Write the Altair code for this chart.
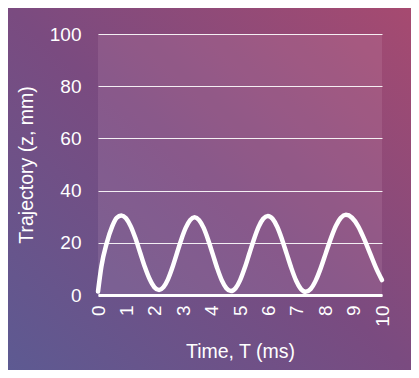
import altair as alt
import pandas as pd

time_ms = [0, 0.12, 0.31, 0.5, 0.66, 0.82,
           0.986, 1.153, 1.319, 1.485, 1.651, 1.818, 1.984, 2.15,
           2.306, 2.463, 2.619, 2.775, 2.931, 3.088, 3.244, 3.40,
           3.56, 3.72, 3.88, 4.04, 4.20, 4.36, 4.52, 4.68,
           4.843, 5.005, 5.168, 5.33, 5.493, 5.655, 5.818, 5.98,
           6.146, 6.313, 6.479, 6.645, 6.811, 6.978, 7.144, 7.31,
           7.488, 7.665, 7.843, 8.02, 8.198, 8.375, 8.553, 8.73,
           8.943, 9.157, 9.37, 9.584, 9.797, 10.0]
trajectory_mm = [1.3, 11, 20, 26.3, 29.6, 30.5,
                 29.4, 26.3, 21.7, 16.2, 10.7, 6.1, 3.0, 1.9,
                 3.0, 6.0, 10.5, 15.85, 21.2, 25.7, 28.7, 29.8,
                 28.7, 25.7, 21.1, 15.65, 10.2, 5.6, 2.6, 1.5,
                 2.6, 5.7, 10.4, 15.9, 21.4, 26.1, 29.2, 30.3,
                 29.2, 26.05, 21.3, 15.75, 10.2, 5.45, 2.3, 1.2,
                 2.3, 5.5, 10.3, 15.95, 21.6, 26.4, 29.6, 30.7,
                 29.6, 26.4, 21.5, 15.85, 10.2, 5.7]
x_ticks = list(range(0, 11))
y_ticks = [0, 20, 40, 60, 80, 100]

W, H = 284, 261
PAD = {"left": 90, "top": 26, "right": 29, "bottom": 75}
FONT = "Liberation Sans"

df = pd.DataFrame({"t": time_ms, "z": trajectory_mm})
one = pd.DataFrame({"k": [0]})

bg = alt.Chart(one).mark_rect(
    color=alt.LinearGradient(
        gradient="linear", x1=0, y1=1, x2=1, y2=0,
        stops=[alt.GradientStop(color="#5d5a92", offset=0),
               alt.GradientStop(color="#7a4b80", offset=0.5),
               alt.GradientStop(color="#a64a70", offset=1)]
    )
).encode(
    x=alt.value(-PAD["left"]), x2=alt.value(W + PAD["right"]),
    y=alt.value(-PAD["top"]), y2=alt.value(H + PAD["bottom"])
)

plot_bg = alt.Chart(one).mark_rect(color="#f0c8e0", opacity=0.12).encode(
    x=alt.value(0), x2=alt.value("width"),
    y=alt.value(0), y2=alt.value("height")
)

line = alt.Chart(df).mark_line(
    color="white", strokeWidth=4.5, interpolate="monotone", strokeCap="round"
).encode(
    x=alt.X("t:Q", scale=alt.Scale(domain=[0, 10], nice=False),
            axis=alt.Axis(title="Time, T (ms)", values=x_ticks, grid=False,
                          ticks=False, tickSize=0, domain=True,
                          domainColor="white", domainWidth=3,
                          labelAngle=270, labelAlign="right",
                          labelBaseline="middle", labelPadding=10,
                          titlePadding=16, zindex=1)),
    y=alt.Y("z:Q", scale=alt.Scale(domain=[0, 100], nice=False),
            axis=alt.Axis(title="Trajectory (z, mm)", values=y_ticks,
                          grid=True, gridColor="white", gridWidth=1,
                          gridOpacity=0.9, ticks=False, tickSize=0,
                          domain=False, labelPadding=17, titlePadding=13,
                          zindex=1))
)

chart = alt.layer(bg, plot_bg, line).properties(
    width=W, height=H,
    autosize=alt.AutoSizeParams(type="none"),
    padding=PAD,
    background="#7a4b80"
).configure_view(stroke=None).configure_axis(
    labelFont=FONT, titleFont=FONT, labelFontSize=19, titleFontSize=19.5,
    labelColor="white", titleColor="white", titleFontWeight="normal",
    labelFlush=False, labelOverlap=False
)

chart.save("out.html", embed_options={"renderer": "svg", "actions": False})
